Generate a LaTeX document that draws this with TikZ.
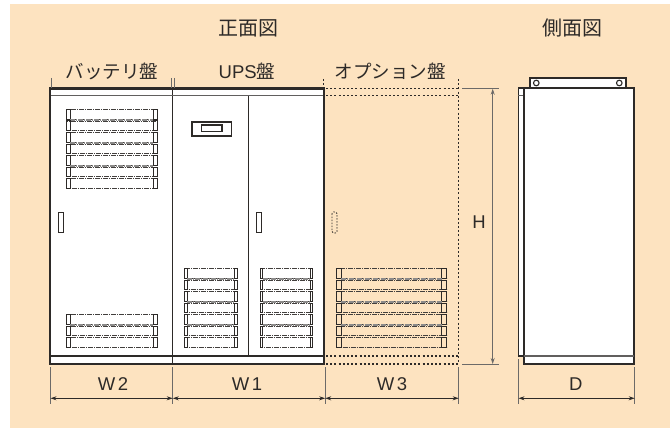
\documentclass[tikz,border=0pt]{standalone}
\usepackage{fontspec}
\usetikzlibrary{arrows.meta}
\setmainfont{Liberation Sans}
\newfontfamily\cjk{Noto Sans CJK JP}
\definecolor{peach}{RGB}{253,227,192}
\definecolor{ink}{RGB}{45,42,40}
\newcommand{\slats}[5]{% x left, x right, y top, count, end width
    \foreach \i in {1,...,#4}
    {   \pgfmathsetmacro{\ytop}{#3+(\i-1)*11.5}
        \draw[slatline] (#1,\ytop) rectangle (#2,\ytop+9.8);
        \draw[slatend] (#1,\ytop) rectangle (#1+#5,\ytop+9.8);
        \draw[slatend] (#2-#5,\ytop) rectangle (#2,\ytop+9.8);
        \ifnum\i<#4 \ifodd\i
            \draw[slatband] (#1+#5,\ytop+10.6) -- (#2-#5,\ytop+10.6);
        \fi\fi
    }
}
\begin{document}
\begin{tikzpicture}
    [   x=1pt,y=-1pt,
        title/.style={font=\cjk\fontsize{20}{22}\selectfont,text=ink,inner sep=0pt},
        panel/.style={font=\cjk\fontsize{18.5}{22}\selectfont,text=ink,inner sep=0pt},
        dimtext/.style={font=\fontsize{18.5}{22}\selectfont,text=ink,inner sep=0pt},
        thick line/.style={draw=ink,line width=2.3pt},
        thin line/.style={draw=ink,line width=1.1pt},
        handle/.style={draw=ink,line width=0.8pt},
        grey line/.style={draw=ink!75,line width=1.2pt},
        dot line/.style={draw=ink,line width=1.1pt,dash pattern=on 2pt off 2.2pt},
        tick/.style={draw=ink!70,line width=0.8pt},
        dim/.style={draw=ink,line width=0.9pt,{Stealth[length=6pt,width=4pt]}-{Stealth[length=6pt,width=4pt]}},
        slatline/.style={draw=ink!90,line width=0.9pt,dash pattern=on 5pt off 1pt on 1pt off 1pt},
        slatend/.style={draw=ink,line width=1pt},
        slatband/.style={draw=ink!55,line width=2pt,dash pattern=on 5pt off 1pt on 1pt off 1pt},
    ]
        \useasboundingbox (0,0) rectangle (670,428);
        \fill[peach] (10,4) rectangle (670,428);
        % front view
        \fill[white] (50,88.5) rectangle (324,364);
        \draw[grey line,draw=ink] (172.7,88.5) -- (172.7,364);
        \draw[thin line] (248.7,95.7) -- (248.7,356);
        \draw[grey line] (50,95.7) -- (324,95.7);
        \draw[thin line] (50,356) -- (324,356);
        \draw[thick line] (50,88.5) rectangle (324,364);
        \slats{66}{157}{109.5}{7}{4}
        \slats{66}{157}{314.5}{3}{4}
        \slats{184.5}{237.3}{268.5}{7}{2.5}
        \slats{260}{312.7}{268.5}{7}{2.5}
        \draw[thin line] (192,122) rectangle (231.3,136);
        \draw[thin line] (201.3,125) rectangle (222,131.7);
        \draw[handle] (58.5,212) rectangle (63.5,232);
        \draw[handle] (256,212) rectangle (261,232);
        % option panel
        \slats{336.3}{446.7}{268.5}{7}{5}
        \draw[dot line] (326,88.5) -- (458.7,88.5);
        \draw[dot line] (326,95.7) -- (458.7,95.7);
        \draw[dot line] (326,356) -- (458.7,356);
        \draw[dot line] (326,364) -- (458.7,364);
        \draw[dot line] (458.7,79) -- (458.7,364);
        \draw[dot line,line width=0.9pt,dash pattern=on 1.5pt off 1.5pt,rounded corners=1.5pt] (332,212) rectangle (337,233);
        % side view
        \draw[thick line,line width=1.8pt,fill=white] (530,78) rectangle (625.7,88);
        \draw[thin line] (536.3,83) circle (2.8);
        \draw[thin line] (619.3,83) circle (2.8);
        \draw[thick line,line width=1.6pt,fill=white] (518.3,88) rectangle (524.3,356);
        \draw[grey line] (518.3,95.7) -- (524.3,95.7);
        \draw[thick line,fill=white] (524.3,88) rectangle (634.3,364);
        \draw[grey line] (524.3,356) -- (634.3,356);
        % ticks above the panels
        \foreach \x in {51.5,171.7,174.2}
        {   \draw[tick] (\x,78) -- (\x,88);
        }
        \draw[dot line,line width=0.8pt] (323.5,79) -- (323.5,88);
        % ticks for the dimensions
        \foreach \x in {50.5,172.7,325.2,458.7}
        {   \draw[tick] (\x,367) -- (\x,404);
        }
        \coordinate (w2-l) at (50.5,398.3);
        \coordinate (w2-r) at (172.7,398.3);
        \coordinate (w1-r) at (325.2,398.3);
        \coordinate (w3-r) at (458.7,398.3);
        \coordinate (d-l) at (518.5,398.3);
        \coordinate (d-r) at (634.7,398.3);
        \coordinate (h-t) at (492.7,88.7);
        \coordinate (h-b) at (492.7,364);
        \draw[tick] (518.5,359) -- (518.5,404);
        \draw[tick] (634.7,367) -- (634.7,404);
        \draw[tick] (462,88.7) -- (499,88.7);
        \draw[tick] (462,364) -- (499,364);
        \draw[dim] (w2-l) -- (w2-r);
        \draw[dim] (w2-r) -- (w1-r);
        \draw[dim] (w1-r) -- (w3-r);
        \draw[dim] (d-l) -- (d-r);
        \draw[dim,draw=ink!70] (h-t) -- (h-b);
        % labels
        \node[title] (front) at (248,28) {正面図};
        \node[title] (side) at (572,28) {側面図};
        \node[panel] (battery) at (112,71.5) {バッテリ盤};
        \node[panel] (ups) at (247,71) {{\fontspec{Liberation Sans}UPS}盤};
        \node[panel] (option) at (390,71.5) {オプション盤};
        \node[dimtext] (w2) at (113,384) {W\kern2.5pt 2};
        \node[dimtext] (w1) at (247,384) {W\kern2.5pt 1};
        \node[dimtext] (w3) at (392,384) {W\kern2.5pt 3};
        \node[dimtext] (h) at (479,222) {H};
        \node[dimtext] (d) at (575.7,384) {D};
  \end{tikzpicture}
\end{document}
